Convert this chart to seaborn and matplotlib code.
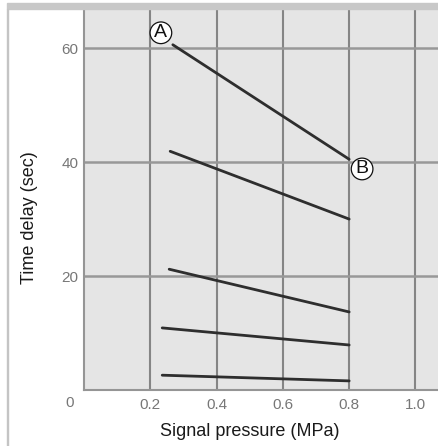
import matplotlib
matplotlib.use("Agg")
import matplotlib.pyplot as plt
import numpy as np
import pandas as pd
import seaborn as sns
from matplotlib.patches import Rectangle

# ---------------------------------------------------------------------------
# Data
# ---------------------------------------------------------------------------
curve_ids   = ["c1", "c2", "c3", "c4", "c5"]
x_start     = [0.268, 0.26, 0.257, 0.236, 0.236]
x_end       = [0.80, 0.80, 0.80, 0.80, 0.80]
delay_start = [60.6, 41.9, 21.2, 10.9, 2.6]
delay_end   = [40.5, 30.0, 13.7, 7.9, 1.6]

x_ticks  = [0.2, 0.4, 0.6, 0.8, 1.0]
x_labels = ["0.2", "0.4", "0.6", "0.8", "1.0"]
y_ticks  = [20, 40, 60]
y_labels = ["20", "40", "60"]

markers = ["A", "B"]
marker_x = [0.232, 0.839]
marker_y = [62.7, 38.8]

rows = []
for cid, xs, xe, ys, ye in zip(curve_ids, x_start, x_end, delay_start, delay_end):
    rows.append({"curve": cid, "pressure": xs, "delay": ys})
    rows.append({"curve": cid, "pressure": xe, "delay": ye})
df = pd.DataFrame(rows)

# ---------------------------------------------------------------------------
# Style
# ---------------------------------------------------------------------------
sns.set_style("white")
plt.rcParams["font.family"] = ["Liberation Sans", "DejaVu Sans"]

fig = plt.figure(figsize=(4.38, 4.46), dpi=100)
ax = fig.add_axes([84 / 438, 1 - 390 / 446, 1 - 84 / 438, 380 / 446])
ax.set_facecolor("#e5e5e5")

# frame around the figure
fig.patches.append(Rectangle((7 / 438, 1 - 9 / 446), 1, 6 / 446,
                             transform=fig.transFigure, color="#c8c8c8", zorder=0))
fig.patches.append(Rectangle((7 / 438, 0), 1.2 / 438, 1 - 9 / 446,
                             transform=fig.transFigure, color="#c4c4c4", zorder=0))

sns.lineplot(data=df, x="pressure", y="delay", units="curve", estimator=None,
             color="#2e2e2e", linewidth=2.0, ax=ax, zorder=3)

ax.set_xlim(0, 1.068)
ax.set_ylim(0, 66.7)
ax.set_xticks(x_ticks)
ax.set_xticklabels(x_labels)
ax.set_yticks(y_ticks)
ax.set_yticklabels(y_labels)
ax.tick_params(axis="both", length=0, labelsize=11, labelcolor="#777777")
ax.tick_params(axis="x", pad=6)
ax.tick_params(axis="y", pad=4)

for xv in x_ticks:
    ax.axvline(xv, color="#858585", linewidth=1.5, zorder=1)
for yv in y_ticks:
    ax.axhline(yv, color="#989898", linewidth=1.8, zorder=1)

for side in ["top", "right"]:
    ax.spines[side].set_visible(False)
for side in ["left", "bottom"]:
    ax.spines[side].set_color("#959595")
    ax.spines[side].set_linewidth(1.5)

# corner "0"
ax.annotate("0", xy=(0, 0), xytext=(-10, -9.5), textcoords="offset points",
            ha="center", va="center", fontsize=11, color="#777777",
            annotation_clip=False)

# circled letters
for lab, mx, my in zip(markers, marker_x, marker_y):
    ax.text(mx, my, lab, ha="center", va="center", fontsize=14, color="#111111",
            zorder=5,
            bbox=dict(boxstyle="circle,pad=0.12", fc="white", ec="#111111", lw=0.9))

ax.set_xlabel("")
ax.set_ylabel("")
fig.text(250 / 438, 1 - 432 / 446, "Signal pressure (MPa)", ha="center", va="center",
         fontsize=13, color="#1a1a1a")
fig.text(29 / 438, 1 - 218 / 446, "Time delay (sec)", ha="center", va="center",
         rotation=90, fontsize=13, color="#1a1a1a")

fig.savefig("out.png", dpi=100)
